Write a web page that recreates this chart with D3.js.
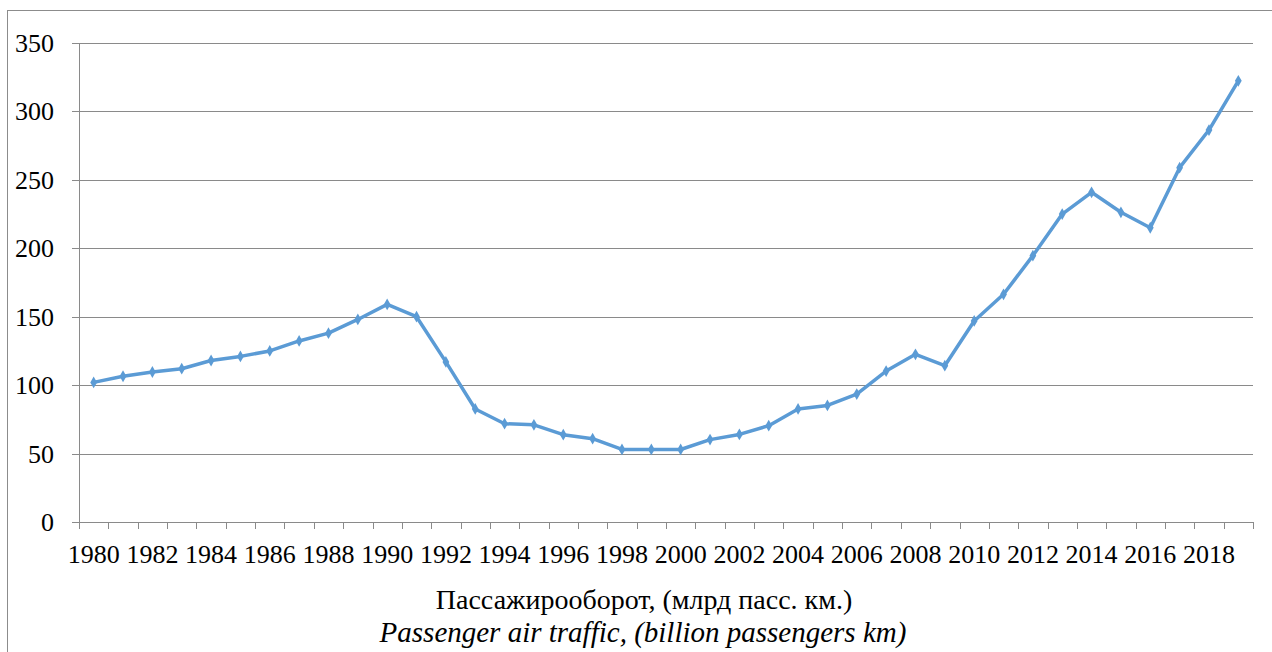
<!DOCTYPE html>
<html>
<head>
<meta charset="utf-8">
<script src="https://cdn.jsdelivr.net/npm/d3@7"></script>
<style>
  body { margin: 0; background: #fff; }
  svg { display: block; }
</style>
</head>
<body>
<div id="chart"></div>
<script>
const years = d3.range(1980, 2020);
const traffic = [
  102, 106.5, 109.6, 112, 118, 121, 125, 132.3, 138, 148,
  159, 150, 117, 82.6, 71.8, 71, 63.8, 60.9, 53, 53,
  53, 60.2, 64, 70.4, 82.6, 85.2, 93.5, 110.3, 122.5, 114.2,
  146.9, 166.4, 194.6, 225, 240.9, 226.3, 215, 258.9, 286.4, 322.4
];
const yTicks = [0, 50, 100, 150, 200, 250, 300, 350];
const titleRu = "Пассажирооборот, (млрд пасс. км.)";
const titleEn = "Passenger air traffic, (billion passengers km)";

const width = 1272, height = 652;
const margin = { left: 79, right: 19, top: 43, bottom: 130 };
const serif = "Liberation Serif";

const svg = d3.select("#chart").append("svg")
    .attr("width", width)
    .attr("height", height);

// outer frame of the chart area
svg.append("rect")
    .attr("x", 7.5).attr("y", 10.5)
    .attr("width", width + 10).attr("height", height + 10)
    .attr("fill", "none")
    .attr("stroke", "#8c8c8c");

const x = d3.scaleBand()
    .domain(years)
    .range([margin.left, width - margin.right]);

const y = d3.scaleLinear()
    .domain([0, 350])
    .range([height - margin.bottom, margin.top]);

/* horizontal gridlines */
svg.append("g")
    .selectAll("line").data(yTicks).enter()
    .append("line")
    .attr("x1", margin.left - 7)
    .attr("x2", width - margin.right)
    .attr("y1", d => Math.round(y(d)) + 0.5)
    .attr("y2", d => Math.round(y(d)) + 0.5)
    .attr("stroke", "#8a8a8a")
    .attr("stroke-width", 1);

/* y axis labels */
svg.append("g")
    .selectAll("text").data(yTicks).enter()
    .append("text")
    .attr("x", 54)
    .attr("y", d => y(d) + 9)
    .attr("text-anchor", "end")
    .attr("font-family", serif)
    .attr("font-size", 26)
    .text(d => d);

/* y axis line */
svg.append("line")
    .attr("x1", margin.left + 0.5).attr("x2", margin.left + 0.5)
    .attr("y1", y(350)).attr("y2", y(0))
    .attr("stroke", "#8a8a8a");

/* x axis ticks at category boundaries */
const bounds = years.map(d => x(d)).concat([x.range()[1]]);
svg.append("g")
    .selectAll("line").data(bounds).enter()
    .append("line")
    .attr("x1", d => Math.round(d) + 0.5)
    .attr("x2", d => Math.round(d) + 0.5)
    .attr("y1", y(0))
    .attr("y2", y(0) + 7)
    .attr("stroke", "#8a8a8a");

/* x labels, every second year */
svg.append("g")
    .selectAll("text").data(years.filter(d => d % 2 === 0)).enter()
    .append("text")
    .attr("x", d => x(d) + x.bandwidth() / 2)
    .attr("y", 563)
    .attr("text-anchor", "middle")
    .attr("font-family", serif)
    .attr("font-size", 26)
    .text(d => d);

/* the series line */
const line = d3.line()
    .x((d, i) => x(years[i]) + x.bandwidth() / 2)
    .y(d => y(d));

svg.append("path")
    .datum(traffic)
    .attr("d", line)
    .attr("fill", "none")
    .attr("stroke", "#5b9bd5")
    .attr("stroke-width", 3.5)
    .attr("stroke-linejoin", "round");

/* diamond markers */
svg.append("g")
    .selectAll("path").data(traffic).enter()
    .append("path")
    .attr("d", d3.symbol().type(d3.symbolDiamond).size(40))
    .attr("transform", (d, i) => `translate(${x(years[i]) + x.bandwidth() / 2},${y(d)})`)
    .attr("fill", "#5b9bd5");

/* axis title, two lines */
svg.append("text")
    .attr("x", 644).attr("y", 609)
    .attr("text-anchor", "middle")
    .attr("font-family", serif)
    .attr("font-size", 28)
    .text(titleRu);

svg.append("text")
    .attr("x", 643).attr("y", 642)
    .attr("text-anchor", "middle")
    .attr("font-family", serif)
    .attr("font-size", 29)
    .attr("font-style", "italic")
    .text(titleEn);
</script>
</body>
</html>
